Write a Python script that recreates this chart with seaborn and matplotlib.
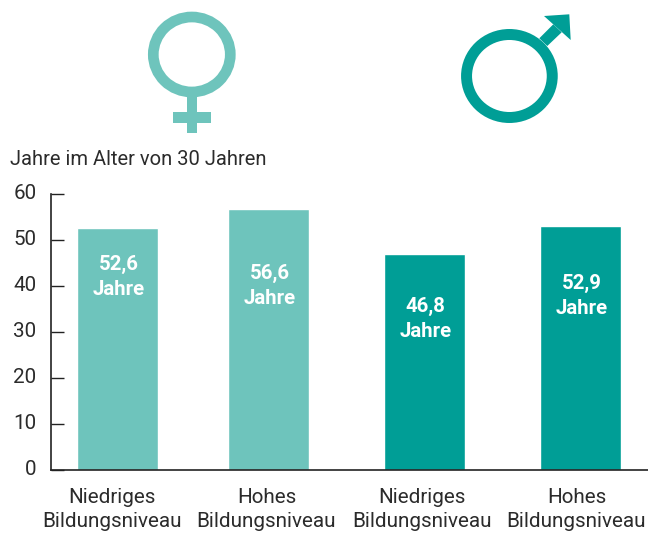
import matplotlib
matplotlib.use("Agg")
import matplotlib.pyplot as plt
from matplotlib.patches import Ellipse, Polygon, Rectangle
from matplotlib.transforms import ScaledTranslation
import pandas as pd
import seaborn as sns

categories = ["Niedriges\nBildungsniveau", "Hohes\nBildungsniveau", "Niedriges\nBildungsniveau", "Hohes\nBildungsniveau"]
groups = ["Frauen", "Frauen", "Männer", "Männer"]
values = [52.6, 56.6, 46.8, 52.9]
value_labels = ["52,6\nJahre", "56,6\nJahre", "46,8\nJahre", "52,9\nJahre"]
label_heights = [41.9, 39.9, 32.7, 37.7]
# bars are not evenly spaced in the original, so x is in pixels of the figure
x_positions = [117.5, 268.5, 424.5, 580.5]
# the value labels are not quite centred on the bars either
label_positions = [119, 270.5, 426, 582.5]
# the category labels sit a bit left of their bars
tick_positions = [112, 267, 422, 577]
y_ticks = [0, 10, 20, 30, 40, 50, 60]

light_teal = "#6EC4BC"
dark_teal = "#009E96"
text_color = "#2b2b2b"

W, H = 648, 540

sns.set_theme(style="white")
plt.rcParams["font.family"] = ["Roboto", "DejaVu Sans"]

fig = plt.figure(figsize=(W / 100, H / 100), dpi=100, facecolor="white")
ax = fig.add_axes([51 / W, 1 - 470 / H, (W - 51) / W, 276.3 / H])

df = pd.DataFrame({"x": x_positions, "value": values, "group": groups})
sns.barplot(data=df, x="x", y="value", hue="group", dodge=False, native_scale=True,
            palette={"Frauen": light_teal, "Männer": dark_teal},
            width=81 / 151, legend=False, ax=ax, saturation=1)

ax.set_xlim(51.5, W + 0.5)
ax.set_ylim(0, 60)
ax.set_xlabel("")
ax.set_ylabel("")
ax.set_yticks(y_ticks)
ax.set_xticks(tick_positions)
ax.set_xticklabels(categories, linespacing=1.33)
ax.tick_params(axis="x", length=0, pad=13, labelsize=14.9, labelcolor=text_color)
ax.tick_params(axis="y", direction="in", length=9, width=1, color="#222222",
               left=True, pad=10.5, labelsize=14.9, labelcolor=text_color)
sns.despine(ax=ax)
for side in ["left", "bottom"]:
    ax.spines[side].set_color("#222222")
    ax.spines[side].set_linewidth(1.2)

# y labels sit slightly above their ticks
lift = ScaledTranslation(0, 2.5 / 100, fig.dpi_scale_trans)
for label in ax.get_yticklabels():
    label.set_transform(label.get_transform() + lift)

for x, y, label in zip(label_positions, label_heights, value_labels):
    ax.text(x, y, label, color="white", fontsize=14.7, fontweight="bold",
            ha="center", va="center", linespacing=1.4)

fig.text(10 / W, 1 - 159 / H, "Jahre im Alter von 30 Jahren", color=text_color,
         fontsize=14.5, ha="left", va="center")

# gender symbols on a full figure overlay in pixel coordinates
sym = fig.add_axes([0, 0, 1, 1], facecolor="none")
sym.set_xlim(0, W)
sym.set_ylim(H, 0)
sym.axis("off")

sym.add_patch(Ellipse((191.8, 54.5), 77, 75, fill=False, ec=light_teal, lw=7.7))
sym.add_patch(Rectangle((186.7, 96), 10.6, 37.3, fc=light_teal, ec="none"))
sym.add_patch(Rectangle((173.3, 112.3), 37.4, 11, fc=light_teal, ec="none"))

sym.add_patch(Ellipse((509.4, 76), 85.7, 83, fill=False, ec=dark_teal, lw=7.9))
sym.add_patch(Polygon([(539.3, 38.3), (553.3, 24.3), (561.7, 32.3), (547.3, 46)], fc=dark_teal, ec="none"))
sym.add_patch(Polygon([(544, 16), (569.3, 14.3), (570.7, 40)], fc=dark_teal, ec="none"))

fig.savefig("out.png", dpi=100)
